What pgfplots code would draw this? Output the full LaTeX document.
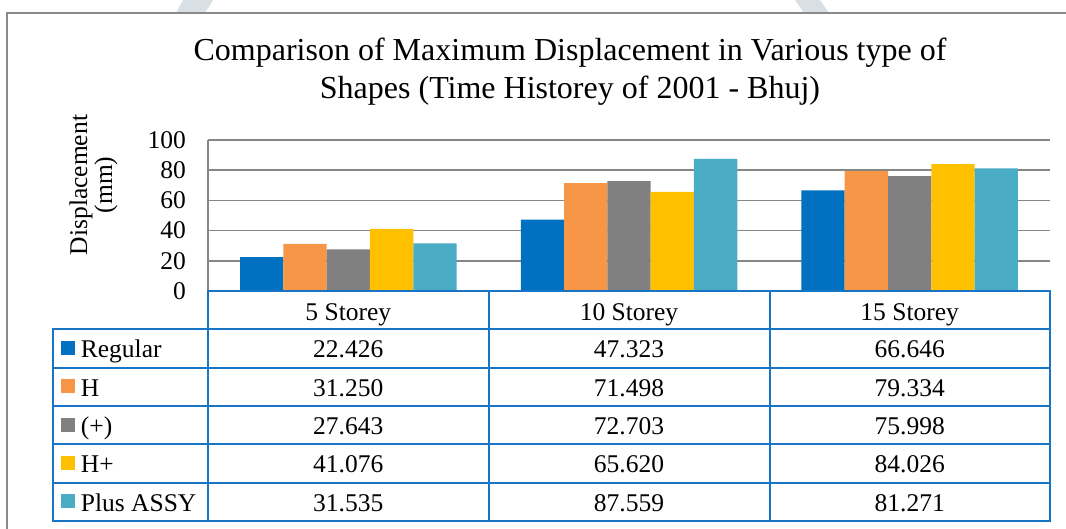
\documentclass[border=0pt]{standalone}
\usepackage{fontspec}
\setmainfont{Liberation Serif}
\usepackage{pgfplots}
\pgfplotsset{compat=1.18}
\definecolor{cReg}{HTML}{0070C0}
\definecolor{cH}{HTML}{F79646}
\definecolor{cP}{HTML}{808080}
\definecolor{cHP}{HTML}{FFC000}
\definecolor{cPA}{HTML}{4BACC6}
\definecolor{tblue}{HTML}{1874C4}
\definecolor{gridgray}{HTML}{868686}
\definecolor{framegray}{HTML}{8A8A8A}
\definecolor{wm}{HTML}{D8E0E5}
\newcommand{\fs}{\fontsize{25.5}{30}\selectfont}
\newcommand{\ft}{\fontsize{32}{38}\selectfont}
\begin{document}
\begin{tikzpicture}[x=1pt,y=1pt]
\path[use as bounding box] (0,0) rectangle (1066,529);
\fill[white] (0,0) rectangle (1066,529);
% faint marks above the frame
\fill[wm] (183,529) -- (213,529) -- (205,516) -- (176,516) -- cycle;
\fill[wm] (795,529) -- (820,529) -- (829,516) -- (804,516) -- cycle;
% outer frame
\draw[framegray, line width=1.5pt] (7,-5) -- (7,516) -- (1075,516);
% title
\node[anchor=base, font=\ft, inner sep=0pt] at (570,468) {Comparison of Maximum Displacement in Various type of};
\node[anchor=base, font=\ft, inner sep=0pt] at (570,430.5) {Shapes (Time Historey of 2001 - Bhuj)};
% y label
\node[anchor=base, rotate=90, font=\fs, inner sep=0pt] at (87,344) {Displacement};
\node[anchor=base, rotate=90, font=\fs, inner sep=0pt] at (112,344) {(mm)};

\begin{axis}[
  at={(208pt,238pt)}, anchor=south west,
  scale only axis, width=842pt, height=151pt,
  xmin=-0.5, xmax=2.5, ymin=0, ymax=100,
  ybar=0pt, bar width=43.3pt,
  axis x line=none, axis y line*=left,
  y axis line style={gridgray, line width=1.7pt},
  xtick=\empty, ytick={0,20,40,60,80,100},
  major tick length=0pt,
  ymajorgrids, grid style={gridgray, line width=1.7pt},
  /pgf/number format/assume math mode=true,
  yticklabel style={font=\fs, inner sep=0pt, xshift=-22pt},
  clip=false,
]
\addplot[fill=cReg, draw=none] coordinates {(0,22.426) (1,47.323) (2,66.646)};
\addplot[fill=cH, draw=none] coordinates {(0,31.250) (1,71.498) (2,79.334)};
\addplot[fill=cP, draw=none] coordinates {(0,27.643) (1,72.703) (2,75.998)};
\addplot[fill=cHP, draw=none] coordinates {(0,41.076) (1,65.620) (2,84.026)};
\addplot[fill=cPA, draw=none] coordinates {(0,31.535) (1,87.559) (2,81.271)};
\end{axis}

% data table
\begin{scope}[tbl/.style={draw=tblue, line width=1.8pt, line cap=rect}]
\draw[tbl] (208,238) -- (1050,238);
\foreach \y in {199.7,161.3,123,84.7,46.3,8} \draw[tbl] (52.7,\y) -- (1050,\y);
\draw[tbl] (52.7,199.7) -- (52.7,8);
\foreach \x in {208,489,770,1050} \draw[tbl] (\x,238) -- (\x,8);
\end{scope}
% header
\node[anchor=base, font=\fs, inner sep=0pt] at (348.3,208.3) {5 Storey};
\node[anchor=base, font=\fs, inner sep=0pt] at (629,208.3) {10 Storey};
\node[anchor=base, font=\fs, inner sep=0pt] at (909.7,208.3) {15 Storey};
% rows
\fill[cReg] (61,174) rectangle (75,188);
\node[anchor=base west, font=\fs, inner sep=0pt] at (80.7,171) {Regular};
\node[anchor=base, font=\fs, inner sep=0pt] at (348.3,171) {22.426};
\node[anchor=base, font=\fs, inner sep=0pt] at (629,171) {47.323};
\node[anchor=base, font=\fs, inner sep=0pt] at (909.7,171) {66.646};
\fill[cH] (61,135.7) rectangle (75,149.7);
\node[anchor=base west, font=\fs, inner sep=0pt] at (80.7,132.7) {H};
\node[anchor=base, font=\fs, inner sep=0pt] at (348.3,132.7) {31.250};
\node[anchor=base, font=\fs, inner sep=0pt] at (629,132.7) {71.498};
\node[anchor=base, font=\fs, inner sep=0pt] at (909.7,132.7) {79.334};
\fill[cP] (61,97.3) rectangle (75,111.3);
\node[anchor=base west, font=\fs, inner sep=0pt] at (80.7,94.3) {(+)};
\node[anchor=base, font=\fs, inner sep=0pt] at (348.3,94.3) {27.643};
\node[anchor=base, font=\fs, inner sep=0pt] at (629,94.3) {72.703};
\node[anchor=base, font=\fs, inner sep=0pt] at (909.7,94.3) {75.998};
\fill[cHP] (61,59) rectangle (75,73);
\node[anchor=base west, font=\fs, inner sep=0pt] at (80.7,56) {H+};
\node[anchor=base, font=\fs, inner sep=0pt] at (348.3,56) {41.076};
\node[anchor=base, font=\fs, inner sep=0pt] at (629,56) {65.620};
\node[anchor=base, font=\fs, inner sep=0pt] at (909.7,56) {84.026};
\fill[cPA] (61,20.7) rectangle (75,34.7);
\node[anchor=base west, font=\fs, inner sep=0pt] at (80.7,17.7) {Plus ASSY};
\node[anchor=base, font=\fs, inner sep=0pt] at (348.3,17.7) {31.535};
\node[anchor=base, font=\fs, inner sep=0pt] at (629,17.7) {87.559};
\node[anchor=base, font=\fs, inner sep=0pt] at (909.7,17.7) {81.271};
\end{tikzpicture}
\end{document}
